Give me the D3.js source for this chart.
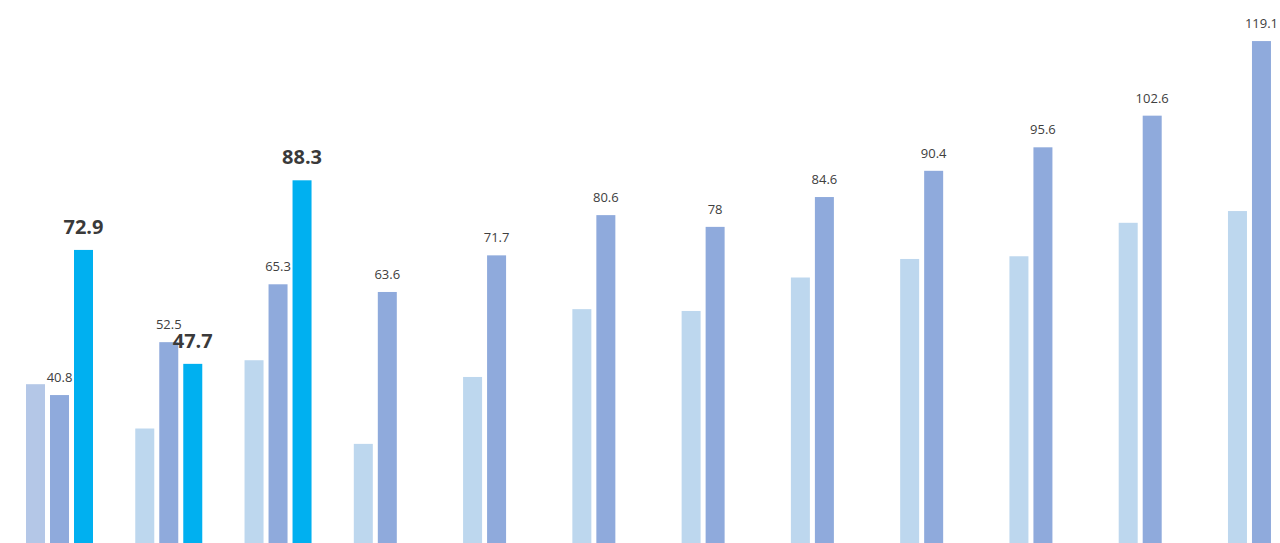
<!DOCTYPE html>
<html>
<head>
<meta charset="utf-8">
<script src="https://cdn.jsdelivr.net/npm/d3@7"></script>
<style>
  html, body { margin: 0; padding: 0; background: #ffffff; overflow: hidden; }
  svg { display: block; }
</style>
</head>
<body>
<script>
const categories = ["1", "2", "3", "4", "5", "6", "7", "8", "9", "10", "11", "12"];
const seriesNames = ["light", "mid", "highlight"];
const lightValues = [43.2, 33.4, 48.5, 30.0, 44.8, 59.8, 59.4, 66.8, 70.9, 71.5, 78.9, 81.5];
const midValues = [40.8, 52.5, 65.3, 63.6, 71.7, 80.6, 78, 84.6, 90.4, 95.6, 102.6, 119.1];
const highlightValues = [72.9, 47.7, 88.3, null, null, null, null, null, null, null, null, null];

const W = 1280, H = 543;
const svg = d3.select("body").append("svg").attr("width", W).attr("height", H);

const x = d3.scaleBand().domain(categories).range([26, 26 + 12 * 109.27]).padding(0);
const xs = d3.scaleBand().domain(seriesNames).range([0, 67]).paddingInner(5 / 24).paddingOuter(0);
const y = d3.scaleLinear().domain([0, 120]).range([579.5, 37]);

const colorOf = (s, i) => {
  if (s === "light") return i === 0 ? "#b4c7e7" : "#bdd7ee";
  if (s === "mid") return "#8faadc";
  return "#00b0f0";
};

const rows = [];
categories.forEach((c, i) => {
  rows.push({ c, i, s: "light", v: lightValues[i] });
  rows.push({ c, i, s: "mid", v: midValues[i] });
  if (highlightValues[i] != null) rows.push({ c, i, s: "highlight", v: highlightValues[i] });
});

svg.append("g").selectAll("rect").data(rows).join("rect")
  .attr("x", d => x(d.c) + xs(d.s))
  .attr("width", xs.bandwidth())
  .attr("y", d => y(d.v))
  .attr("height", d => y(0) - y(d.v))
  .attr("fill", d => colorOf(d.s, d.i));

const labeled = rows.filter(d => d.s !== "light");
svg.append("g").selectAll("text").data(labeled).join("text")
  .attr("x", d => x(d.c) + xs(d.s) + xs.bandwidth() / 2)
  .attr("y", d => y(d.v) - (d.s === "highlight" ? 16 : 13))
  .attr("text-anchor", "middle")
  .attr("font-family", "'Open Sans', 'Noto Sans', sans-serif")
  .attr("font-size", d => d.s === "highlight" ? 20 : 13)
  .attr("font-weight", d => d.s === "highlight" ? 700 : 400)
  .attr("fill", d => d.s === "highlight" ? "#3a3a3a" : "#404040")
  .text(d => d.v);
</script>
</body>
</html>
